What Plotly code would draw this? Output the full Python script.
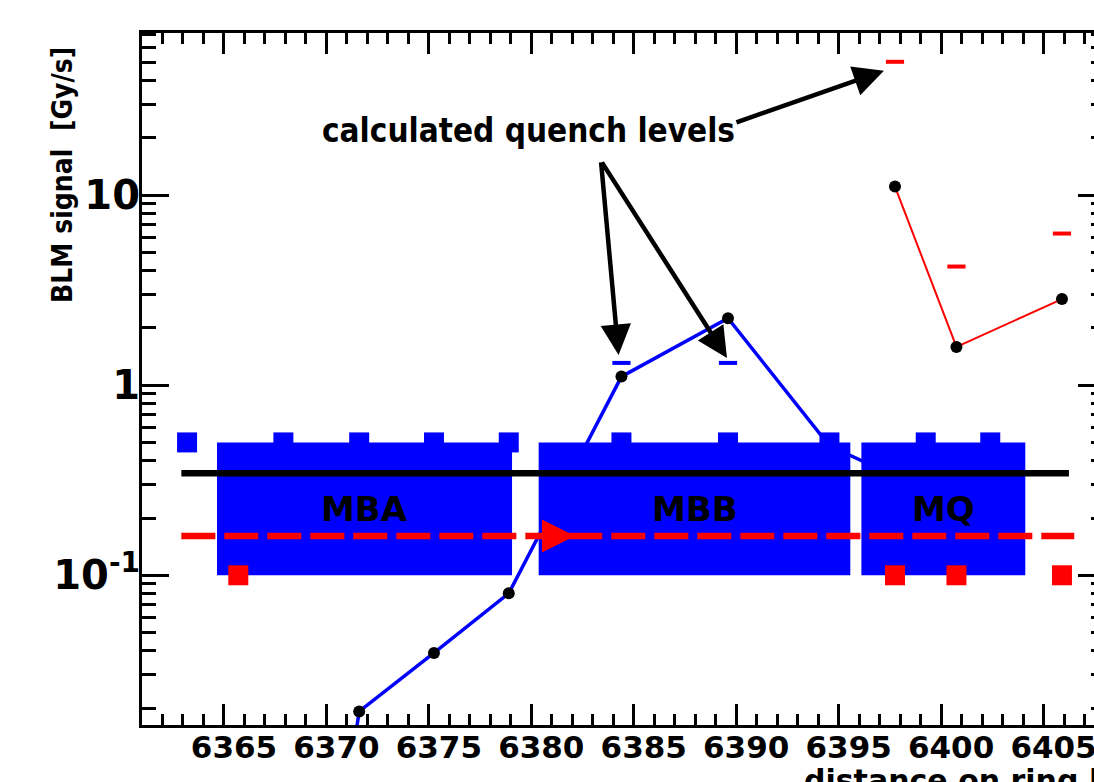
import numpy as np
import plotly.graph_objects as go

# ---- BLM positions along the ring [m] ----
blue_blm_x = [6363.2, 6367.9, 6371.6, 6375.25, 6378.9, 6384.4, 6389.6, 6394.55, 6399.25, 6402.4]
red_blm_x = [6365.7, 6397.75, 6400.75, 6405.9]
blue_blm_level = 0.5
red_blm_level = 0.1

# ---- measured BLM signals [Gy/s] ----
blue_signal_x = [6367.9, 6371.6, 6375.25, 6378.9, 6384.4, 6389.6, 6394.55, 6399.25]
blue_signal_y = [5e-5, 0.0192, 0.039, 0.0804, 1.11, 2.25, 0.48, 0.28]
red_signal_x = [6397.75, 6400.75, 6405.9]
red_signal_y = [11.1, 1.59, 2.84]

# ---- calculated quench levels [Gy/s] ----
blue_quench_x = [6384.4, 6389.6]
blue_quench_y = [1.31, 1.31]
red_quench_x = [6397.75, 6400.75, 6405.9]
red_quench_y = [50.3, 4.21, 6.28]

# ---- magnet layout ----
magnet_names = ["MBA", "MBB", "MQ"]
magnet_start = [6364.66, 6380.36, 6396.11]
magnet_end = [6379.06, 6395.57, 6404.11]
magnet_low, magnet_high = 0.1, 0.5

# ---- horizontal levels ----
threshold_level = 0.344
threshold_x = [6362.92, 6406.24]
beam_level = 0.161
beam_x = [6362.92, 6406.5]
beam_arrow_x = [6380.4, 6382.13]

x_range = [6361, 6408]
y_range = [0.0163, 71.3]

BOLD = dict(family="DejaVu Sans", color="black", weight="bold")
NARROW = "Liberation Sans Narrow, DejaVu Sans Condensed, DejaVu Sans"

fig = go.Figure()

# signal of the blue monitors
fig.add_trace(go.Scatter(
    x=blue_signal_x, y=blue_signal_y, mode="lines+markers",
    line=dict(color="#0000ff", width=3.5),
    marker=dict(color="black", size=12)))

# magnet bodies
box_x, box_y = [], []
for x0, x1 in zip(magnet_start, magnet_end):
    box_x += [x0, x1, x1, x0, x0, None]
    box_y += [magnet_low, magnet_low, magnet_high, magnet_high, magnet_low, None]
fig.add_trace(go.Scatter(
    x=box_x, y=box_y, mode="lines", fill="toself", fillcolor="#0000ff",
    line=dict(color="#0000ff", width=0)))

# monitor locations
fig.add_trace(go.Scatter(
    x=blue_blm_x, y=[blue_blm_level] * len(blue_blm_x), mode="markers",
    marker=dict(symbol="square", size=20, color="#0000ff")))
fig.add_trace(go.Scatter(
    x=red_blm_x, y=[red_blm_level] * len(red_blm_x), mode="markers",
    marker=dict(symbol="square", size=20, color="#ff0000")))

# horizontal levels
fig.add_trace(go.Scatter(
    x=threshold_x, y=[threshold_level] * 2, mode="lines",
    line=dict(color="black", width=6.5)))
fig.add_trace(go.Scatter(
    x=beam_x, y=[beam_level] * 2, mode="lines",
    line=dict(color="#ff0000", width=6.5, dash="34px,9px")))

# signal of the red monitors
fig.add_trace(go.Scatter(
    x=red_signal_x, y=red_signal_y, mode="lines+markers",
    line=dict(color="#ff0000", width=2),
    marker=dict(color="black", size=12)))

# quench levels
fig.add_trace(go.Scatter(
    x=blue_quench_x, y=blue_quench_y, mode="markers",
    marker=dict(symbol="line-ew", size=13, line=dict(color="#0000ff", width=4))))
fig.add_trace(go.Scatter(
    x=red_quench_x, y=red_quench_y, mode="markers",
    marker=dict(symbol="line-ew", size=13, line=dict(color="#ff0000", width=4))))

annotations = []
# magnet labels at the middle of each magnet
for name, x0, x1 in zip(magnet_names, magnet_start, magnet_end):
    annotations.append(dict(
        x=(x0 + x1) / 2, y=(np.log10(magnet_low) + np.log10(magnet_high)) / 2,
        text=name, showarrow=False, font=dict(BOLD, size=34)))

# beam direction arrow on the dashed line
annotations.append(dict(
    x=beam_arrow_x[1], y=np.log10(beam_level), ax=beam_arrow_x[0], ay=np.log10(beam_level),
    axref="x", ayref="y", text="", showarrow=True, arrowhead=2,
    arrowsize=1.1, arrowwidth=6, arrowcolor="#ff0000"))

# label and pointers to the quench levels
label_x, label_y = 6379.84, 10 ** 1.338
annotations.append(dict(
    x=label_x, y=np.log10(label_y), text="calculated quench levels", showarrow=False,
    xanchor="center", yanchor="middle",
    font=dict(family=NARROW, size=33, color="black", weight="bold")))
pointers = [
    ((6389.94, 24.0), (6397.21, 45.1)),
    ((6383.40, 15.15), (6384.26, 1.444)),
    ((6383.40, 15.15), (6389.55, 1.392)),
]
for (tx, ty), (hx, hy) in pointers:
    annotations.append(dict(
        x=hx, y=np.log10(hy), ax=tx, ay=np.log10(ty), axref="x", ayref="y",
        text="", showarrow=True, arrowhead=2, arrowsize=1.35,
        arrowwidth=4.5, arrowcolor="black"))

# axis titles
annotations.append(dict(
    xref="paper", yref="paper", x=-0.082, y=0.795, xanchor="center", yanchor="middle",
    text="BLM signal  [Gy/s]", textangle=-90, showarrow=False,
    font=dict(family=NARROW, size=28, color="black", weight="bold")))
annotations.append(dict(
    xref="paper", yref="paper", x=0.6855, y=-0.052, xanchor="left", yanchor="top",
    text="distance on ring [m]", showarrow=False,
    font=dict(BOLD, size=30)))

minor_y = [k * 10.0 ** e for e in range(-2, 2) for k in range(2, 10)]

fig.update_layout(
    width=1120, height=782, autosize=False,
    margin=dict(l=142, r=15, t=33, b=57),
    paper_bgcolor="white", plot_bgcolor="white",
    showlegend=False, annotations=annotations,
    xaxis=dict(
        range=x_range, showgrid=False, zeroline=False,
        showline=True, linecolor="black", linewidth=3, mirror="ticks",
        ticks="inside", ticklen=21, tickwidth=2.5, tickcolor="black",
        tick0=6365, dtick=5, ticklabelshift=10, ticklabelstandoff=-7,
        tickfont=dict(BOLD, size=31),
        minor=dict(ticks="inside", ticklen=11, tickwidth=2.5, dtick=1, tickcolor="black"),
    ),
    yaxis=dict(
        type="log", range=[np.log10(y_range[0]), np.log10(y_range[1])],
        showgrid=False, zeroline=False,
        showline=True, linecolor="black", linewidth=3, mirror="ticks",
        ticks="inside", ticklen=27, tickwidth=2.5, tickcolor="black",
        tickvals=[0.1, 1, 10], ticktext=["10<sup>-1</sup>", "1", "10"],
        ticklabelstandoff=-9,
        tickfont=dict(BOLD, size=40),
        minor=dict(ticks="inside", ticklen=14, tickwidth=2.5, tickvals=minor_y, tickcolor="black"),
    ),
)

fig.write_html(
    "out.html",
    post_script="document.documentElement.style.overflow='hidden';"
                "document.body.style.overflow='hidden';document.body.style.margin='0';",
)
